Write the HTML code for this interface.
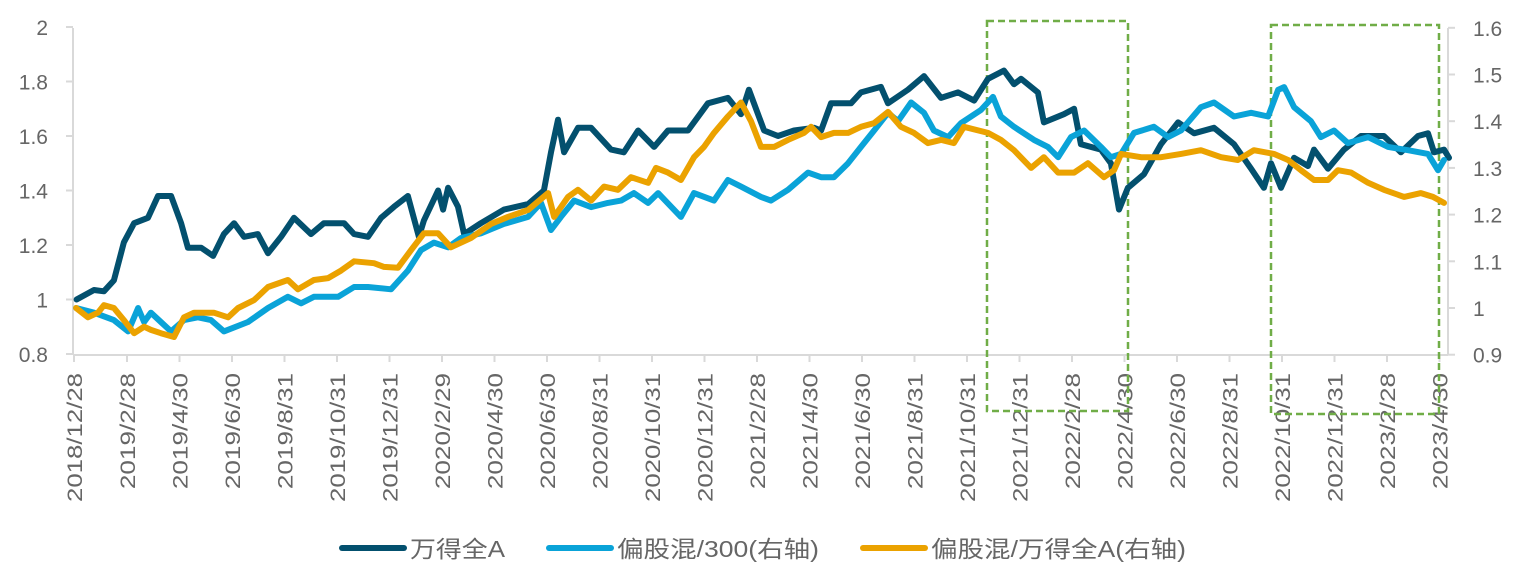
<!DOCTYPE html>
<html><head><meta charset="utf-8"><style>
html,body{margin:0;padding:0;background:#fff;}
svg{display:block;font-family:"Liberation Sans","Noto Sans CJK SC",sans-serif;}
</style></head><body>
<svg id="chart" width="1518" height="570" viewBox="0 0 1518 570" xmlns="http://www.w3.org/2000/svg">
<g id="axes"></g>
<g id="boxes"></g>
<g id="series"></g>
<g id="legend"></g>
</svg>
<script>
const xTickLabels=["2018/12/28","2019/2/28","2019/4/30","2019/6/30","2019/8/31","2019/10/31","2019/12/31","2020/2/29","2020/4/30","2020/6/30","2020/8/31","2020/10/31","2020/12/31","2021/2/28","2021/4/30","2021/6/30","2021/8/31","2021/10/31","2021/12/31","2022/2/28","2022/4/30","2022/6/30","2022/8/31","2022/10/31","2022/12/31","2023/2/28","2023/4/30"];
const leftTicks=[0.8,1,1.2,1.4,1.6,1.8,2];
const rightTicks=[0.9,1,1.1,1.2,1.3,1.4,1.5,1.6];
// months since 2018/12/28
const windT=[0.1,0.76,1.14,1.52,1.9,2.29,2.82,3.2,3.7,4.08,4.34,4.84,5.3,5.71,6.1,6.48,7.0,7.39,7.89,8.38,9.03,9.52,10.29,10.67,11.2,11.7,12.19,12.72,13.14,13.33,13.87,14.06,14.25,14.63,14.86,15.5,16.38,17.3,17.9,18.17,18.44,18.67,19.2,19.7,20.46,20.95,21.49,22.1,22.63,23.39,24.15,24.91,25.41,25.71,26.29,26.82,27.43,28.19,28.46,28.84,29.6,29.98,30.74,31.01,31.77,32.38,33.03,33.68,34.29,34.82,35.43,35.81,36.08,36.72,36.95,37.71,38.1,38.36,39.12,39.5,39.81,40.15,40.76,41.41,42.06,42.67,43.43,44.19,44.84,45.33,45.6,45.98,46.48,47.01,47.24,47.77,48.38,49.03,49.9,50.55,51.2,51.58,51.81,52.19,52.38];
const windA=[1.00,1.035,1.03,1.07,1.21,1.28,1.30,1.38,1.38,1.28,1.19,1.19,1.16,1.24,1.28,1.23,1.24,1.17,1.23,1.30,1.24,1.28,1.28,1.24,1.23,1.30,1.34,1.38,1.23,1.29,1.40,1.33,1.41,1.34,1.24,1.28,1.33,1.35,1.40,1.54,1.66,1.54,1.63,1.63,1.55,1.54,1.62,1.56,1.62,1.62,1.72,1.74,1.68,1.77,1.62,1.60,1.62,1.63,1.62,1.72,1.72,1.76,1.78,1.72,1.77,1.82,1.74,1.76,1.73,1.81,1.84,1.79,1.81,1.76,1.65,1.68,1.70,1.57,1.55,1.50,1.33,1.41,1.46,1.57,1.65,1.61,1.63,1.57,1.48,1.41,1.50,1.41,1.52,1.49,1.55,1.48,1.55,1.60,1.60,1.54,1.60,1.61,1.54,1.55,1.52];
const mix300T=[0.08,0.76,1.52,2.06,2.44,2.67,2.93,3.31,3.7,4.19,4.72,5.22,5.71,6.63,7.39,8.15,8.65,9.14,10.06,10.67,11.2,12.08,12.72,13.22,13.71,14.25,14.74,15.5,16.38,17.3,17.79,18.17,18.55,19.05,19.7,20.34,20.84,21.33,21.87,22.25,23.12,23.62,24.38,24.91,25.41,26.17,26.55,27.2,27.96,28.46,28.95,29.49,29.98,30.48,31.01,31.39,31.89,32.38,32.76,33.3,33.79,34.55,35.01,35.31,35.81,36.57,37.1,37.49,37.98,38.48,39.12,39.5,39.89,40.38,41.14,41.68,42.17,42.93,43.43,44.19,44.84,45.49,45.87,46.1,46.48,47.12,47.5,48.0,48.53,49.3,50.06,50.82,51.58,51.96,52.19];
const mix300=[1.00,0.99,0.974,0.95,1.00,0.97,0.99,0.97,0.95,0.974,0.98,0.974,0.95,0.97,1.00,1.024,1.01,1.024,1.024,1.045,1.045,1.04,1.08,1.124,1.14,1.13,1.15,1.16,1.18,1.195,1.225,1.167,1.195,1.23,1.216,1.225,1.23,1.246,1.225,1.246,1.195,1.246,1.23,1.274,1.26,1.238,1.23,1.253,1.29,1.28,1.28,1.31,1.345,1.38,1.418,1.40,1.44,1.418,1.38,1.366,1.396,1.424,1.452,1.41,1.388,1.36,1.345,1.323,1.366,1.38,1.345,1.323,1.33,1.375,1.388,1.366,1.38,1.43,1.44,1.41,1.418,1.41,1.467,1.473,1.43,1.40,1.366,1.38,1.353,1.366,1.345,1.338,1.33,1.295,1.317];
const mixWindT=[0.08,0.53,0.91,1.14,1.52,1.9,2.29,2.67,2.93,3.31,3.81,4.19,4.57,5.33,5.87,6.25,6.86,7.39,8.15,8.53,9.14,9.68,10.17,10.67,11.43,11.81,12.34,12.84,13.33,13.87,14.36,15.12,15.89,16.53,17.3,18.06,18.29,18.82,19.2,19.7,20.19,20.72,21.22,21.87,22.17,22.63,23.12,23.62,24.0,24.38,24.91,25.41,25.79,26.17,26.67,27.2,27.81,28.08,28.46,28.95,29.49,29.98,30.48,31.01,31.5,32.0,32.53,33.03,33.52,33.9,34.82,35.31,35.81,36.46,36.95,37.49,38.1,38.63,39.24,39.62,39.89,40.65,41.41,42.17,42.93,43.7,44.34,44.95,45.71,46.25,46.74,47.24,47.77,48.15,48.65,49.3,49.9,50.67,51.31,51.77,52.19];
const mixWind=[1.00,0.98,0.99,1.006,1.00,0.974,0.946,0.96,0.953,0.946,0.938,0.98,0.99,0.99,0.98,1.00,1.017,1.045,1.06,1.04,1.06,1.064,1.08,1.10,1.096,1.088,1.086,1.124,1.16,1.16,1.13,1.15,1.18,1.195,1.21,1.246,1.195,1.238,1.253,1.23,1.26,1.253,1.28,1.268,1.30,1.29,1.274,1.323,1.345,1.375,1.41,1.44,1.40,1.345,1.345,1.36,1.375,1.388,1.366,1.375,1.375,1.388,1.396,1.42,1.388,1.375,1.353,1.36,1.353,1.388,1.375,1.36,1.338,1.30,1.323,1.29,1.29,1.31,1.28,1.295,1.33,1.323,1.323,1.33,1.338,1.323,1.317,1.338,1.33,1.317,1.295,1.274,1.274,1.295,1.29,1.268,1.253,1.238,1.246,1.238,1.225];

const NS="http://www.w3.org/2000/svg";
const X0=74,MW=26.25;
const xS=t=>X0+t*MW;
const yL=v=>354-(v-0.8)*272.5;
const yR=v=>308-(v-1)*467;
function mk(tag,attrs,parent){const e=document.createElementNS(NS,tag);for(const k in attrs)e.setAttribute(k,attrs[k]);parent.appendChild(e);return e;}
const axes=document.getElementById('axes');
let ax=mk('line',{x1:73,y1:355,x2:1448,y2:355,stroke:'#d9d9d9','stroke-width':2},axes);


let ay=mk('line',{x1:73,y1:28,x2:73,y2:355,stroke:'#d9d9d9','stroke-width':2},axes);


let ar=mk('line',{x1:1448,y1:28,x2:1448,y2:355,stroke:'#d9d9d9','stroke-width':2},axes);


xTickLabels.forEach((lab,i)=>{
  const x=X0+i*2*MW+(i>0?0.5:0);
  const tk=mk('line',{x1:x,y1:355,x2:x,y2:362,stroke:'#d9d9d9','stroke-width':2},axes);
  
  
  const t=mk('text',{x:0,y:0,transform:`translate(${x+8},373) rotate(-90)`,'text-anchor':'end','font-size':21,fill:'#666',textLength:lab.length*12.9,lengthAdjust:'spacingAndGlyphs'},axes);
  t.textContent=lab;
  
  
});
leftTicks.forEach(v=>{
  const y=yL(v);
  const tk=mk('line',{x1:66,y1:y,x2:73,y2:y,stroke:'#d9d9d9','stroke-width':2},axes);
  
  
  const t=mk('text',{x:48,y:y+8,'text-anchor':'end','font-size':21,fill:'#666'},axes);
  t.textContent=String(v);
  
  
});
rightTicks.forEach(v=>{
  const y=yR(v);
  const tk=mk('line',{x1:1448,y1:y,x2:1455,y2:y,stroke:'#d9d9d9','stroke-width':2},axes);
  
  
  const t=mk('text',{x:1473,y:y+8,'text-anchor':'start','font-size':21,fill:'#666'},axes);
  t.textContent=String(v);
  
  
});
const bx=document.getElementById('boxes');
let b1=mk('rect',{x:987,y:21,width:141,height:390,fill:'none',stroke:'#70ad47','stroke-width':2.5,'stroke-dasharray':'7,4'},bx);


let b2=mk('rect',{x:1271,y:25,width:168,height:389,fill:'none',stroke:'#70ad47','stroke-width':2.5,'stroke-dasharray':'7,4'},bx);


const sg=document.getElementById('series');
function path(ts,vs,yf){return ts.map((t,i)=>(i?'L':'M')+xS(t).toFixed(1)+','+yf(vs[i]).toFixed(1)).join('');}
let pW=mk('path',{d:path(windT,windA,yL),fill:'none',stroke:'#03506e','stroke-width':6,'stroke-linejoin':'round','stroke-linecap':'round'},sg);


let pB=mk('path',{d:path(mix300T,mix300,yR),fill:'none',stroke:'#0aa3d8','stroke-width':6,'stroke-linejoin':'round','stroke-linecap':'round'},sg);


let pO=mk('path',{d:path(mixWindT,mixWind,yR),fill:'none',stroke:'#eba200','stroke-width':6,'stroke-linejoin':'round','stroke-linecap':'round'},sg);


const lg=document.getElementById('legend');
[[342,'#03506e','万得全A',95],[549,'#0aa3d8','偏股混/300(右轴)',202],[863,'#eba200','偏股混/万得全A(右轴)',255]].forEach(([x,c,lab,w])=>{
  const l=mk('line',{x1:x,y1:548,x2:x+62,y2:548,stroke:c,'stroke-width':6,'stroke-linecap':'round'},lg);
  
  
  const t=mk('text',{x:x+68,y:557,'font-size':23,fill:'#666',textLength:w,lengthAdjust:'spacingAndGlyphs'},lg);
  t.textContent=lab;
  
  
});
</script>
</body></html>
